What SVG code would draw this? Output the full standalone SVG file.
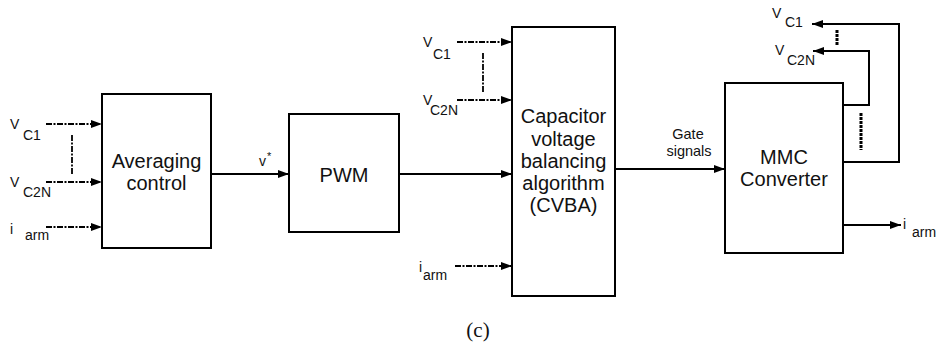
<svg xmlns="http://www.w3.org/2000/svg" width="936" height="345" viewBox="0 0 936 345">
<defs>
<marker id="ah" markerWidth="11" markerHeight="8" refX="11" refY="4" orient="auto" markerUnits="userSpaceOnUse"><path d="M0,0 L11,4 L0,8 z" fill="#000"/></marker>
</defs>
<style>
.box{fill:#fff;stroke:#000;stroke-width:2}
.t{font-family:"Liberation Sans",Arial,sans-serif;font-size:20px;text-anchor:middle;fill:#111}
.s{font-family:"Liberation Sans",Arial,sans-serif;font-size:14px;fill:#111}
.g{font-family:"Liberation Sans",Arial,sans-serif;font-size:14.5px;text-anchor:middle;fill:#111}
.ln{stroke:#000;stroke-width:2;fill:none}
.dd{stroke:#000;stroke-width:1.8;fill:none;stroke-dasharray:6 1.5 2 1.5}
.dv{stroke:#000;stroke-width:3;fill:none;stroke-dasharray:3 1}
</style>
<rect width="936" height="345" fill="#fff"/>
<g id="avg">
<rect class="box" x="102" y="94" width="109" height="154"/>
<text class="t" x="156.5" y="168">Averaging</text>
<text class="t" x="156.5" y="190">control</text>
</g>
<g id="pwm">
<rect class="box" x="289" y="114" width="110" height="118"/>
<text class="t" x="344" y="182">PWM</text>
</g>
<g id="cvba">
<rect class="box" x="512" y="27" width="103" height="269"/>
<text class="t" x="563.5" y="123">Capacitor</text>
<text class="t" x="563.5" y="146">voltage</text>
<text class="t" x="563.5" y="168">balancing</text>
<text class="t" x="563.5" y="190">algorithm</text>
<text class="t" x="563.5" y="212">(CVBA)</text>
</g>
<g id="mmc">
<rect class="box" x="725" y="83" width="118" height="170"/>
<text class="t" x="784" y="164">MMC</text>
<text class="t" x="784" y="186">Converter</text>
</g>
<g id="connectors">
<line class="dd" x1="46" y1="124" x2="102" y2="124" marker-end="url(#ah)"/>
<line class="dd" x1="46" y1="182" x2="102" y2="182" marker-end="url(#ah)"/>
<line class="dd" x1="46" y1="227" x2="102" y2="227" marker-end="url(#ah)"/>
<line class="dd" x1="72" y1="135" x2="72" y2="175"/>
<line class="ln" x1="211" y1="174" x2="289" y2="174" marker-end="url(#ah)"/>
<line class="ln" x1="399" y1="174" x2="512" y2="174" marker-end="url(#ah)"/>
<line class="dd" x1="457" y1="42" x2="512" y2="42" marker-end="url(#ah)"/>
<line class="dd" x1="457" y1="100" x2="512" y2="100" marker-end="url(#ah)"/>
<line class="dd" x1="455" y1="266" x2="512" y2="266" marker-end="url(#ah)"/>
<line class="dd" x1="483" y1="53" x2="483" y2="92"/>
<line class="ln" x1="615" y1="169" x2="725" y2="169" marker-end="url(#ah)"/>
<polyline class="ln" points="843,105 869,105 869,51 813,51" marker-end="url(#ah)"/>
<polyline class="ln" points="843,162 899,162 899,24 812,24" marker-end="url(#ah)"/>
<line class="ln" x1="843" y1="225" x2="901" y2="225" marker-end="url(#ah)"/>
<line class="dv" x1="837" y1="30" x2="837" y2="45"/>
<line class="dv" x1="861" y1="113" x2="861" y2="150"/>
</g>
<g id="labels">
<text class="s" x="10" y="129">V</text><text class="s" x="23" y="140">C1</text>
<text class="s" x="10" y="187">V</text><text class="s" x="23" y="197">C2N</text>
<text class="s" x="10" y="234">i</text><text class="s" x="25" y="240">arm</text>
<text class="s" x="259" y="166">v</text><text class="s" x="267" y="160" style="font-size:11px">*</text>
<text class="s" x="423" y="47">V</text><text class="s" x="433" y="59">C1</text>
<text class="s" x="423" y="105">V</text><text class="s" x="430" y="115">C2N</text>
<text class="s" x="419" y="272">i</text><text class="s" x="423" y="280">arm</text>
<text class="g" x="688" y="139">Gate</text>
<text class="g" x="689" y="156">signals</text>
<text class="s" x="772" y="18">V</text><text class="s" x="785" y="27">C1</text>
<text class="s" x="775" y="55">V</text><text class="s" x="787" y="65">C2N</text>
<text class="s" x="903" y="229">i</text><text class="s" x="912" y="237">arm</text>
<text x="478" y="337" style="font-family:'Liberation Serif','Times New Roman',serif;font-size:21px;text-anchor:middle;fill:#111">(c)</text>
</g>
</svg>
